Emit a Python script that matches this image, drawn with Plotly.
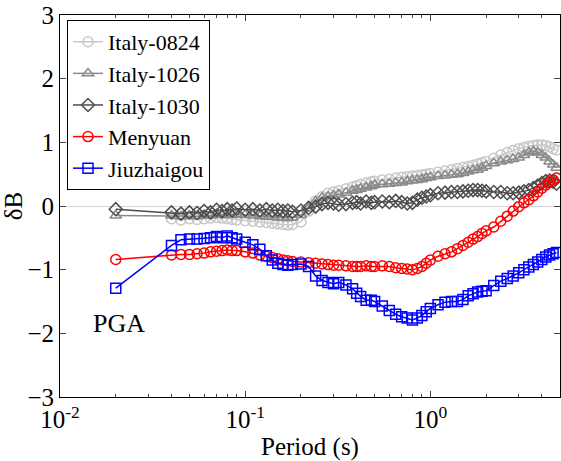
import plotly.graph_objects as go

periods = [0.04, 0.045, 0.05, 0.055, 0.06, 0.065, 0.07, 0.075, 0.08, 0.085, 0.09,
           0.1, 0.11, 0.12, 0.13, 0.14, 0.15, 0.16, 0.17, 0.18,
           0.2, 0.22, 0.24, 0.26, 0.28, 0.3, 0.32, 0.35, 0.38,
           0.4, 0.42, 0.45, 0.48, 0.5, 0.55, 0.6, 0.65, 0.7, 0.75, 0.8, 0.85, 0.9, 0.95,
           1.0, 1.1, 1.2, 1.3, 1.4, 1.5, 1.6, 1.7, 1.8, 1.9,
           2.0, 2.2, 2.4, 2.6, 2.8, 3.0, 3.2, 3.4, 3.6, 3.8, 4.0, 4.2, 4.4, 4.6, 4.8]

pga_period = 0.02

italy_0824 = [-0.20, -0.22, -0.20, -0.21, -0.20, -0.19, -0.18, -0.19, -0.20, -0.21, -0.22,
              -0.23, -0.24, -0.25, -0.26, -0.27, -0.28, -0.29, -0.30, -0.29,
              -0.25, -0.08, 0.08, 0.15, 0.20, 0.22, 0.24, 0.27, 0.30,
              0.32, 0.34, 0.36, 0.38, 0.39, 0.41, 0.42, 0.44, 0.45, 0.46, 0.47, 0.48, 0.49, 0.50,
              0.51, 0.53, 0.55, 0.57, 0.59, 0.61, 0.62, 0.64, 0.66, 0.68,
              0.70, 0.75, 0.80, 0.84, 0.87, 0.90, 0.92, 0.94, 0.95, 0.96, 0.96, 0.95, 0.93, 0.90, 0.88]

italy_1026_pga = -0.15
italy_1026 = [-0.15, -0.16, -0.15, -0.16, -0.14, -0.15, -0.13, -0.14, -0.13, -0.14, -0.13,
              -0.14, -0.15, -0.16, -0.17, -0.17, -0.18, -0.18, -0.19, -0.18,
              -0.14, -0.04, 0.07, 0.13, 0.15, 0.16, 0.18, 0.21, 0.24,
              0.25, 0.27, 0.29, 0.31, 0.33, 0.34, 0.35, 0.36, 0.37, 0.39, 0.40, 0.41, 0.42, 0.44,
              0.45, 0.47, 0.48, 0.49, 0.50, 0.52, 0.54, 0.56, 0.57, 0.60,
              0.63, 0.67, 0.70, 0.72, 0.74, 0.76, 0.80, 0.84, 0.86, 0.84, 0.80, 0.76, 0.70, 0.65, 0.60]

italy_1030_pga = -0.05
italy_1030 = [-0.10, -0.12, -0.10, -0.11, -0.08, -0.10, -0.06, -0.08, -0.05, -0.07, -0.04,
              -0.06, -0.05, -0.07, -0.05, -0.07, -0.06, -0.08, -0.07, -0.09,
              -0.07, -0.03, -0.01, 0.03, 0.05, 0.04, 0.02, 0.03, 0.05,
              0.06, 0.04, 0.07, 0.05, 0.06, 0.07, 0.06, 0.08, 0.06, 0.04, 0.05, 0.10, 0.13, 0.15,
              0.17, 0.20, 0.21, 0.22, 0.22, 0.23, 0.24, 0.25, 0.25, 0.24,
              0.23, 0.22, 0.22, 0.20, 0.20, 0.21, 0.23, 0.25, 0.28, 0.32, 0.36, 0.39, 0.40, 0.38, 0.35]

menyuan_pga = -0.84
menyuan = [-0.77, -0.76, -0.76, -0.75, -0.74, -0.72, -0.71, -0.70, -0.69, -0.70, -0.70,
           -0.72, -0.74, -0.77, -0.79, -0.81, -0.83, -0.85, -0.86, -0.87,
           -0.88, -0.89, -0.90, -0.91, -0.92, -0.93, -0.93, -0.94, -0.95,
           -0.95, -0.95, -0.94, -0.95, -0.95, -0.94, -0.95, -0.97, -0.98, -0.99, -1.00, -0.98, -0.95, -0.90,
           -0.85, -0.79, -0.75, -0.72, -0.67, -0.62, -0.57, -0.52, -0.48, -0.43,
           -0.39, -0.33, -0.24, -0.16, -0.08, -0.01, 0.05, 0.10, 0.16, 0.22, 0.28, 0.33, 0.37, 0.41, 0.44]

jiuzhaigou_pga = -1.29
jiuzhaigou = [-0.62, -0.53, -0.52, -0.52, -0.51, -0.50, -0.48, -0.50, -0.47, -0.50, -0.52,
              -0.57, -0.61, -0.68, -0.78, -0.85, -0.90, -0.92, -0.93, -0.92,
              -0.91, -0.95, -1.10, -1.17, -1.20, -1.22, -1.20, -1.24, -1.30,
              -1.37, -1.42, -1.48, -1.48, -1.50, -1.57, -1.64, -1.70, -1.74, -1.76, -1.79, -1.76, -1.72, -1.66,
              -1.61, -1.55, -1.51, -1.50, -1.50, -1.47, -1.41, -1.38, -1.35, -1.34,
              -1.33, -1.25, -1.18, -1.14, -1.10, -1.05, -1.00, -0.96, -0.92, -0.88, -0.84, -0.80, -0.77, -0.75, -0.73]

y_ticks = [-3, -2, -1, 0, 1, 2, 3]
x_ticks = [0.01, 0.1, 1]
x_ticktext = ["10<sup>-2</sup>", "10<sup>-1</sup>", "10<sup>0</sup>"]

FONT = "Liberation Serif"

series = [
    ("Italy-0824", None, italy_0824, "#c8c8c8", "circle-open"),
    ("Italy-1026", italy_1026_pga, italy_1026, "#8a8a8a", "triangle-up-open"),
    ("Italy-1030", italy_1030_pga, italy_1030, "#4d4d4d", "diamond-open"),
    ("Menyuan", menyuan_pga, menyuan, "#ff0000", "circle-open"),
    ("Jiuzhaigou", jiuzhaigou_pga, jiuzhaigou, "#0000ff", "square-open"),
]

fig = go.Figure()
for name, pga, vals, color, sym in series:
    xs = ([pga_period] if pga is not None else []) + periods
    ys = ([pga] if pga is not None else []) + vals
    fig.add_trace(go.Scatter(
        x=xs, y=ys, mode="lines+markers", name=name,
        line=dict(color=color, width=1.5),
        marker=dict(symbol=sym, size=10, color=color, line=dict(color=color, width=1.5)),
    ))

minor_vals = []
for d in [0.01, 0.1, 1]:
    for m in range(2, 10):
        minor_vals.append(d * m)

fig.add_annotation(x=-1.68, y=-1.84, xref="x", yref="y", text="PGA", showarrow=False,
                   font=dict(family=FONT, size=26, color="black"))

fig.update_layout(
    width=561, height=461,
    margin=dict(l=60, r=1, t=15, b=64),
    paper_bgcolor="white", plot_bgcolor="white",
    font=dict(family=FONT, size=25, color="black"),
    showlegend=True,
    legend=dict(x=0.014, y=0.987, xanchor="left", yanchor="top",
                bordercolor="black", borderwidth=1, bgcolor="white",
                font=dict(family=FONT, size=22), tracegroupgap=0,
                itemwidth=30),
    xaxis=dict(type="log", range=[-2, 0.7], tickvals=x_ticks, ticktext=x_ticktext,
               ticks="inside", ticklen=6, showline=True, linecolor="black", linewidth=1,
               mirror="ticks", showgrid=False, zeroline=False,
               minor=dict(tickvals=minor_vals, ticks="inside", ticklen=3, showgrid=False),
               title=dict(text="Period (s)", font=dict(family=FONT, size=25), standoff=0),
               tickfont=dict(family=FONT, size=25)),
    yaxis=dict(range=[-3, 3], tickvals=y_ticks, ticks="inside", ticklen=6,
               showline=True, linecolor="black", linewidth=1, mirror="ticks",
               showgrid=False, zeroline=True, zerolinecolor="#d4d4d4", zerolinewidth=1,
               title=dict(text="δB", font=dict(family=FONT, size=25), standoff=8),
               tickfont=dict(family=FONT, size=25)),
)

fig.write_html("out.html")
